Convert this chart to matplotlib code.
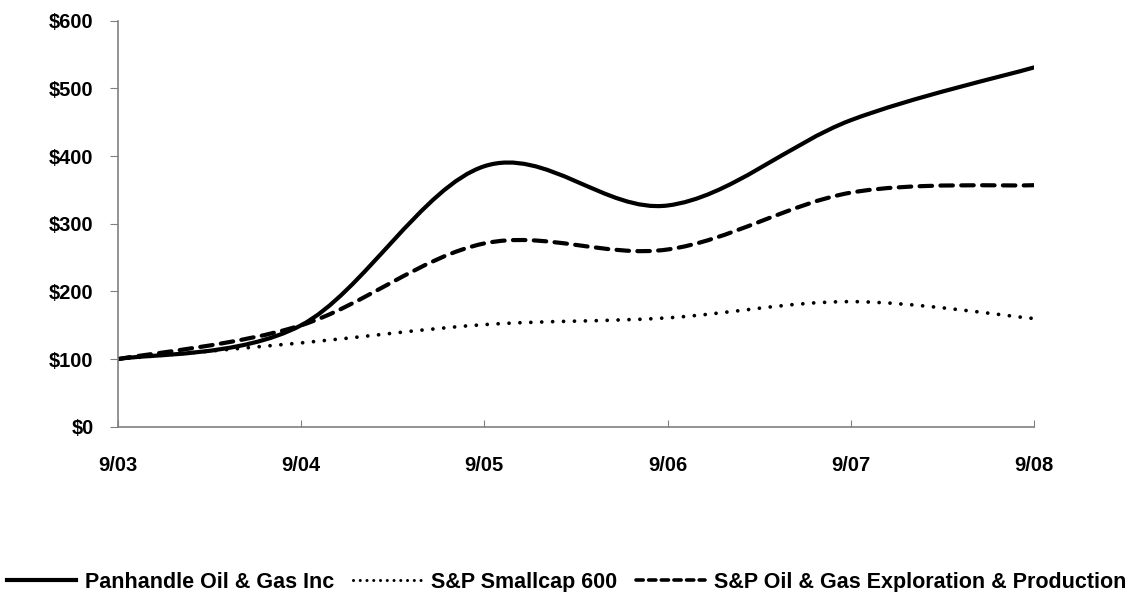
import matplotlib.pyplot as plt
from matplotlib.path import Path
from matplotlib.patches import PathPatch
from matplotlib.lines import Line2D

plt.rcParams['font.family'] = ['Liberation Sans', 'DejaVu Sans']
plt.rcParams['font.weight'] = 'bold'

periods = ['9/03', '9/04', '9/05', '9/06', '9/07', '9/08']
panhandle = [100, 150, 385, 327, 453, 531]
smallcap = [100, 124, 151, 161, 185, 160]
oil_gas_ep = [100, 150, 271, 262, 346, 357]

names = ['Panhandle Oil & Gas Inc', 'S&P Smallcap 600',
         'S&P Oil & Gas Exploration & Production']


def smooth_path(ys):
    # Excel style smoothed line: cubic bezier segments through the points
    xs = list(range(len(ys)))
    verts = [(xs[0], ys[0])]
    codes = [Path.MOVETO]
    n = len(ys)
    for i in range(n - 1):
        x0, y0 = xs[max(i - 1, 0)], ys[max(i - 1, 0)]
        x1, y1 = xs[i], ys[i]
        x2, y2 = xs[i + 1], ys[i + 1]
        x3, y3 = xs[min(i + 2, n - 1)], ys[min(i + 2, n - 1)]
        c1 = (x1 + (x2 - x0) / 6, y1 + (y2 - y0) / 6)
        c2 = (x2 - (x3 - x1) / 6, y2 - (y3 - y1) / 6)
        verts += [c1, c2, (x2, y2)]
        codes += [Path.CURVE4] * 3
    return Path(verts, codes)


fig = plt.figure(figsize=(11.33, 5.92), dpi=100)
ax = fig.add_axes([0.104, 0.279, 0.8086, 0.686])

styles = [
    dict(linestyle='-', linewidth=3.0),
    dict(linestyle=(0, (0.01, 2.9)), linewidth=2.7),
    dict(linestyle=(0, (3.0, 2.0)), linewidth=3.0),
]
legend_styles = [
    dict(linestyle='-', linewidth=3.0),
    dict(linestyle=(0, (0.01, 2.2)), linewidth=2.2),
    dict(linestyle=(0, (2.0, 1.5)), linewidth=2.6),
]

handles = []
for ys, name, st, lst in zip([panhandle, smallcap, oil_gas_ep], names,
                             styles, legend_styles):
    patch = PathPatch(smooth_path(ys), fill=False, edgecolor='black',
                      capstyle='round', joinstyle='round', **st)
    ax.add_patch(patch)
    handles.append(Line2D([], [], color='black', dash_capstyle='round', **lst))

ax.set_xlim(0, len(periods) - 1)
ax.set_ylim(0, 600)
ax.set_xticks(range(len(periods)))
ax.set_xticklabels(periods)
ax.set_yticks(range(0, 601, 100))
ax.set_yticklabels(['$' + str(v) for v in range(0, 601, 100)])

for s in ['top', 'right']:
    ax.spines[s].set_visible(False)
for s in ['left', 'bottom']:
    ax.spines[s].set_color('#808080')
    ax.spines[s].set_linewidth(1.2)

ax.tick_params(axis='y', direction='out', length=5.5, color='#808080', pad=12,
               labelsize=14.5)
ax.tick_params(axis='x', direction='in', length=5, color='#808080', pad=21,
               labelsize=14.5)

fig.legend(handles, names, loc='center', bbox_to_anchor=(0.5, 0.016),
           ncol=3, frameon=False, fontsize=15.5, handlelength=3.2,
           handletextpad=0.4, columnspacing=0.9)

fig.savefig('out.png', dpi=100)
